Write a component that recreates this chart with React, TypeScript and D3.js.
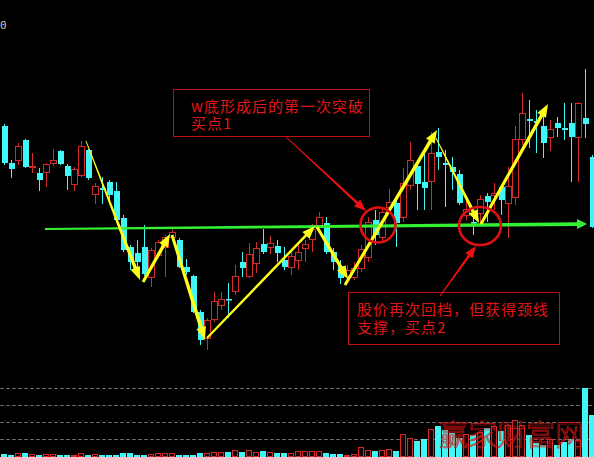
import React from 'react';
import * as d3 from 'd3';

const W = 594;
const H = 457;

// Daily bars (price in yuan)
const opens = [
  7.34, 6.97, 7.0, 7.2, 6.93, 6.87, 6.88, 6.97, 7.09, 6.94,
  6.76, 6.85, 7.1, 6.66, 6.72, 6.78, 6.69, 6.42, 6.13, 6.07,
  6.13, 5.83, 6.05, 6.13, 6.23, 6.2, 5.93, 5.84, 5.48, 5.22,
  5.41, 5.55, 5.61, 5.69, 5.98, 5.84, 5.97, 6.16, 6.13, 6.14,
  6.0, 5.93, 6.0, 6.12, 6.21, 6.35, 6.37, 6.08, 5.94, 5.84,
  5.83, 5.92, 6.03, 6.4, 6.23, 6.53, 6.57, 6.43, 6.75, 6.94,
  6.78, 6.79, 7.08, 6.97, 6.93, 6.86, 6.45, 6.38, 6.47, 6.64,
  6.65, 6.73, 6.57, 6.63, 7.21, 7.41, 7.39, 7.34, 7.23, 7.37,
  7.32, 7.37, 7.23, 7.42, 7.03,
];
const highs = [
  7.36, 7.0, 7.17, 7.21, 7.07, 6.92, 6.97, 7.11, 7.1, 6.96,
  6.93, 7.19, 7.11, 6.77, 6.83, 6.8, 6.78, 6.45, 6.15, 6.2,
  6.35, 6.12, 6.2, 6.25, 6.31, 6.22, 6.01, 5.85, 5.5, 5.42,
  5.68, 5.68, 5.77, 5.95, 6.08, 6.17, 6.18, 6.31, 6.24, 6.2,
  6.13, 6.1, 6.17, 6.2, 6.36, 6.48, 6.43, 6.12, 6.0, 5.95,
  5.98, 6.15, 6.43, 6.5, 6.52, 6.71, 6.65, 6.92, 7.18, 7.0,
  7.07, 7.28, 7.32, 7.1, 7.03, 6.9, 6.6, 6.53, 6.65, 6.67,
  6.77, 6.75, 6.93, 7.34, 7.67, 7.6, 7.5, 7.5, 7.4, 7.43,
  7.57, 7.57, 7.58, 7.91, 7.05,
];
const lows = [
  6.95, 6.82, 6.95, 6.92, 6.87, 6.69, 6.73, 6.94, 6.95, 6.7,
  6.69, 6.83, 6.8, 6.56, 6.56, 6.6, 6.38, 6.08, 5.9, 5.88,
  5.84, 5.73, 6.02, 5.83, 6.2, 5.92, 5.85, 5.47, 5.15, 5.1,
  5.38, 5.5, 5.42, 5.65, 5.83, 5.82, 5.87, 6.06, 6.06, 5.98,
  5.9, 5.85, 5.9, 5.98, 6.08, 6.28, 6.06, 5.9, 5.76, 5.78,
  5.8, 5.88, 5.98, 6.15, 6.18, 6.48, 6.13, 6.38, 6.7, 6.5,
  6.5, 6.5, 6.9, 6.53, 6.7, 6.55, 6.4, 6.25, 6.38, 6.38,
  6.5, 6.45, 6.22, 6.55, 7.15, 7.12, 7.07, 7.02, 7.09, 7.23,
  7.2, 6.78, 6.78, 7.22, 6.32,
];
const closes = [
  6.97, 6.91, 7.14, 6.93, 6.94, 6.8, 6.96, 7.0, 6.96, 6.84,
  6.91, 7.14, 6.82, 6.74, 6.7, 6.65, 6.4, 6.1, 5.98, 5.98,
  5.86, 6.1, 6.18, 6.23, 6.28, 5.93, 5.88, 5.48, 5.2, 5.4,
  5.59, 5.61, 5.6, 5.84, 5.92, 6.06, 6.12, 6.08, 6.17, 6.07,
  5.93, 6.04, 6.08, 6.16, 6.31, 6.43, 6.08, 5.98, 5.82, 5.9,
  5.92, 6.11, 6.38, 6.25, 6.48, 6.58, 6.37, 6.77, 7.0, 6.76,
  6.72, 7.07, 7.03, 6.95, 6.88, 6.57, 6.51, 6.37, 6.61, 6.58,
  6.67, 6.6, 6.74, 7.21, 7.47, 7.39, 7.37, 7.17, 7.31, 7.32,
  7.3, 7.23, 7.57, 7.36, 6.33,
];
// Volume (lots)
const volumes = [
  1350, 760, 1590, 1590, 1000, 760, 1000, 1000, 760, 760,
  760, 1590, 760, 1000, 760, 760, 760, 1590, 1590, 760,
  760, 1000, 1590, 1590, 1590, 760, 760, 760, 1590, 1590,
  2180, 2180, 2530, 3350, 2530, 3350, 2180, 3120, 2530, 1940,
  1940, 1590, 2940, 2760, 2760, 2760, 1760, 1350, 1350, 590,
  1000, 5290, 3700, 2760, 3350, 4290, 3120, 12940, 10590, 9000,
  10000, 15880, 17640, 15290, 13520, 10590, 12940, 12350, 14110, 16460,
  17640, 14700, 18230, 21170, 18230, 12350, 7640, 6470, 10000, 6470,
  8230, 10000, 9410, 40000, 24110,
];
const volumeGrid = [10000, 20000, 30000, 40000];

// Swing arrows: [barIndex, price] start -> end, shaft width at start/end
const swingFrom = [[11.71, 7.19], [19.86, 5.78], [24.0, 6.25], [29.0, 5.22], [44.71, 6.33], [48.71, 5.75], [61.71, 7.22], [68.14, 6.36]];
const swingTo = [[19.43, 5.8], [23.71, 6.26], [28.71, 5.2], [44.43, 6.34], [49.14, 5.81], [61.86, 7.3], [67.86, 6.37], [77.71, 7.56]];
const swingWidth = [[0.8, 3.6], [3, 3.4], [3, 3.6], [2.2, 2.6], [3, 3.4], [3, 3.6], [0.8, 3.4], [3, 3.4]];

// Neckline
const necklineFrom = [5.86, 6.31];
const necklineTo = [83.29, 6.36];

// Buy points
const buyPoints = [[53.43, 6.35], [68.0, 6.34]];
const buyRadius = [[17.5, 17.5], [21, 19]];

// Callout pointers
const pointerFrom = [[40.29, 7.23], [62.29, 5.64]];
const pointerTo = [[51.71, 6.49], [67.43, 6.14]];

const callout1 = ['w底形成后的第一次突破', '买点1'];
const callout2 = ['股价再次回档，但获得颈线', '支撑，买点2'];

const UP = '#d42a2a';
const DOWN = '#40f6f6';
const ARROW = '#ffff1a';
const NECK = '#33f033';
const NOTE = '#e01616';
const CJK = '"Noto Sans CJK SC", "Noto Sans", sans-serif';

function arrowPoints(x0: number, y0: number, x1: number, y1: number, w0: number, w1: number, hl: number, hw: number) {
  const dx = x1 - x0, dy = y1 - y0;
  const L = Math.hypot(dx, dy);
  const ux = dx / L, uy = dy / L;
  const nx = -uy, ny = ux;
  const bx = x1 - ux * hl, by = y1 - uy * hl;
  const pts = [
    [x0 + nx * w0 / 2, y0 + ny * w0 / 2],
    [bx + nx * w1 / 2, by + ny * w1 / 2],
    [bx + nx * hw / 2, by + ny * hw / 2],
    [x1, y1],
    [bx - nx * hw / 2, by - ny * hw / 2],
    [bx - nx * w1 / 2, by - ny * w1 / 2],
    [x0 - nx * w0 / 2, y0 - ny * w0 / 2],
  ];
  return pts.map((p) => p[0].toFixed(2) + ',' + p[1].toFixed(2)).join(' ');
}

export default function App() {
  const n = closes.length;
  const x = d3.scaleLinear().domain([0, n - 1]).range([4, 4 + 7 * (n - 1)]);
  const y = d3.scaleLinear().domain([5, 8]).range([360, 60]);
  const yv = d3.scaleLinear().domain([0, 40000]).range([456, 388]);

  const bars = d3.range(n).map((i) => ({
    i,
    o: opens[i],
    h: highs[i],
    l: lows[i],
    c: closes[i],
    v: volumes[i],
    up: closes[i] >= opens[i],
  }));

  const P = (d: number[]) => [x(d[0]), y(d[1])];

  return (
    <svg width={W} height={H} style={{ position: 'fixed', left: 0, top: 0, background: '#000' }}>
      <rect x={0} y={0} width={W} height={H} fill="#000" />
      <text x={0} y={29} fontSize={11} fill="#c8c8c8" fontFamily="DejaVu Sans Mono, monospace">0</text>

      {/* volume grid */}
      {volumeGrid.map((t) => (
        <line key={t} x1={0} x2={W} y1={Math.round(yv(t)) + 0.5} y2={Math.round(yv(t)) + 0.5}
          stroke="#6a6a6a" strokeWidth={1} strokeDasharray="4,2" />
      ))}

      {/* volume bars */}
      {bars.map((b) => {
        const cx = Math.round(x(b.i));
        const top = Math.round(yv(b.v));
        const bot = 457;
        return b.up ? (
          <rect key={'v' + b.i} x={cx - 2.5} y={top + 0.5} width={5} height={Math.max(bot - top - 1, 0.5)}
            fill="#1a0000" stroke={UP} strokeWidth={1} />
        ) : (
          <rect key={'v' + b.i} x={cx - 3} y={top} width={6} height={bot - top} fill={DOWN} />
        );
      })}

      {/* candles */}
      {bars.map((b) => {
        const cx = Math.round(x(b.i));
        const yt = Math.round(y(Math.max(b.o, b.c)));
        const yb = Math.round(y(Math.min(b.o, b.c)));
        const col = b.up ? UP : DOWN;
        return (
          <g key={'c' + b.i}>
            <line x1={cx + 0.5} x2={cx + 0.5} y1={y(b.h)} y2={y(b.l)} stroke={col} strokeWidth={1} />
            {b.up ? (
              <rect x={cx - 2.5} y={yt + 0.5} width={6} height={Math.max(yb - yt, 1)} fill="#000" stroke={col} strokeWidth={1} />
            ) : (
              <rect x={cx - 2} y={yt} width={6} height={Math.max(yb - yt, 1.5)} fill={col} />
            )}
          </g>
        );
      })}

      {/* neckline */}
      {(() => {
        const [x0, y0] = P(necklineFrom);
        const [x1, y1] = P(necklineTo);
        return <polygon points={arrowPoints(x0, y0, x1, y1, 2, 3.8, 10, 10)} fill={NECK} />;
      })()}

      {/* swing arrows */}
      {swingFrom.map((f, k) => {
        const [x0, y0] = P(f);
        const [x1, y1] = P(swingTo[k]);
        return (
          <polygon key={'s' + k} points={arrowPoints(x0, y0, x1, y1, swingWidth[k][0], swingWidth[k][1], 13, 10)} fill={ARROW} />
        );
      })}

      {/* buy point circles */}
      {buyPoints.map((p, k) => {
        const [cx, cy] = P(p);
        return <ellipse key={'b' + k} cx={cx} cy={cy} rx={buyRadius[k][0]} ry={buyRadius[k][1]} fill="none" stroke="#e01010" strokeWidth={2.6} />;
      })}

      {/* callout pointers */}
      {pointerFrom.map((f, k) => {
        const [x0, y0] = P(f);
        const [x1, y1] = P(pointerTo[k]);
        return <polygon key={'p' + k} points={arrowPoints(x0, y0, x1, y1, 1, 2.6, 12, 9)} fill="#f01010" />;
      })}

      {/* callout boxes */}
      <rect x={173.5} y={89.5} width={196} height={47} fill="none" stroke="#c01010" strokeWidth={1} />
      <text x={191} y={112} fontSize={15} letterSpacing={1} fill={NOTE} fontFamily={CJK}>
        <tspan x={191} y={112}>{callout1[0]}</tspan>
        <tspan x={191} y={129}>{callout1[1]}</tspan>
      </text>

      <rect x={348.5} y={292.5} width={211} height={52} fill="none" stroke="#c01010" strokeWidth={1} />
      <text x={357} y={315} fontSize={15} letterSpacing={1} fill={NOTE} fontFamily={CJK}>
        <tspan x={357} y={315}>{callout2[0]}</tspan>
        <tspan x={357} y={333}>{callout2[1]}</tspan>
      </text>

      {/* watermark */}
      <text x={439} y={446} fontSize={29} fontWeight={300} fill="none" stroke="#d01818" strokeWidth={0.7} fontFamily={CJK}>赢家财富网</text>
    </svg>
  );
}
